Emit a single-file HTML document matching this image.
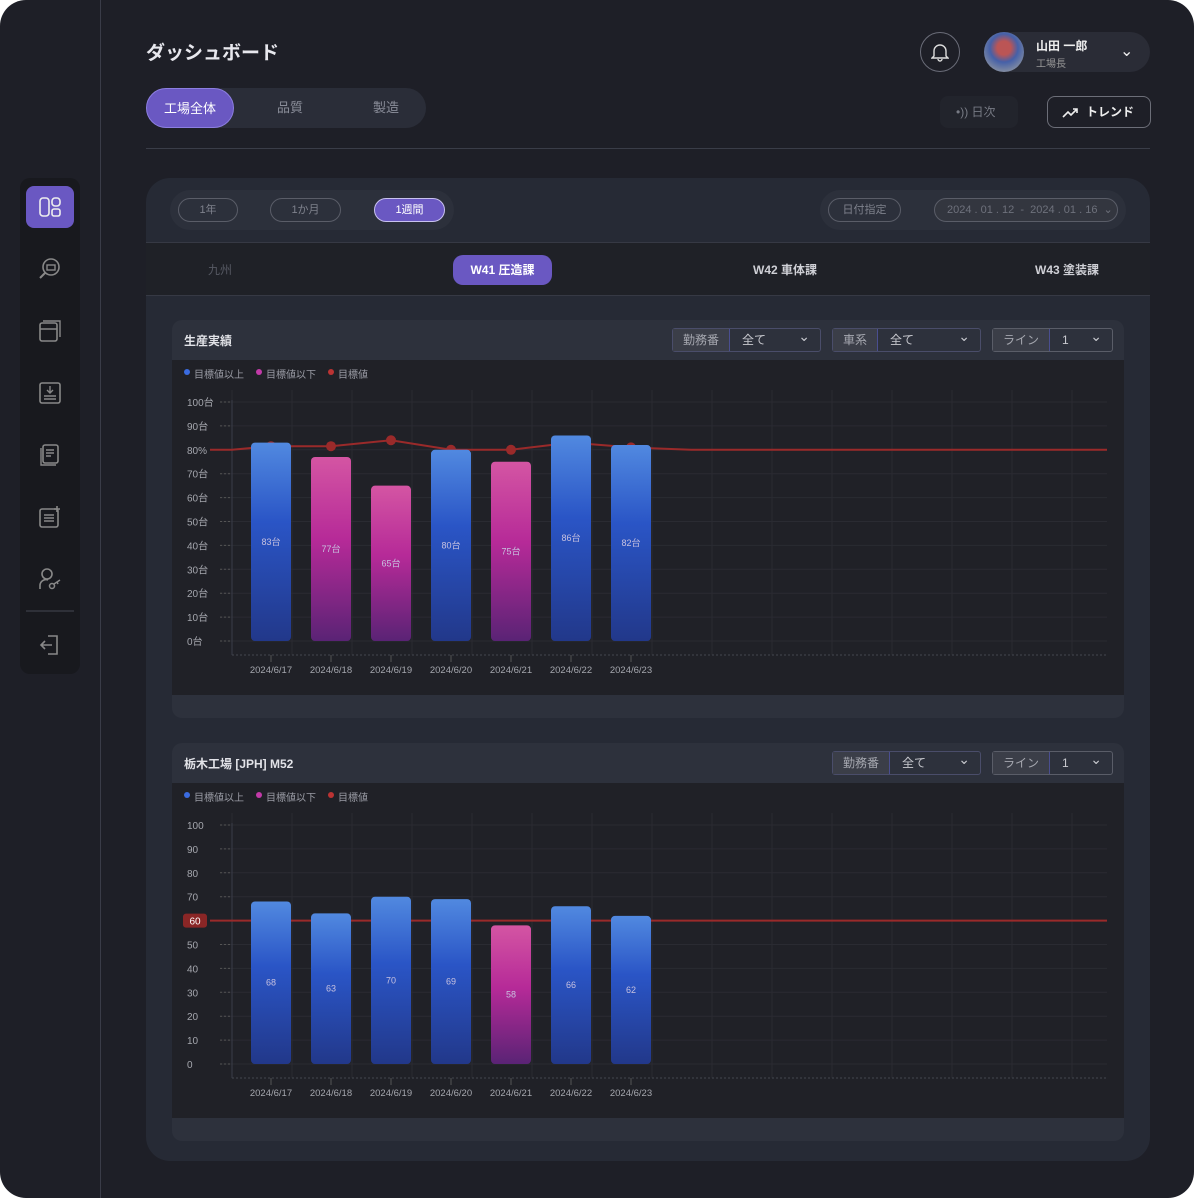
<!DOCTYPE html>
<html><head><meta charset="utf-8">
<style>
*{box-sizing:border-box;margin:0;padding:0}
body{width:1194px;height:1198px;background:#fff;font-family:"Liberation Sans","Noto Sans CJK JP",sans-serif;overflow:hidden}
.frame{position:absolute;left:0;top:0;width:1194px;height:1198px;background:#1e1f27;border-radius:26px;overflow:hidden}
.abs{position:absolute}
.vline{left:100px;top:0;width:1px;height:1198px;background:#3a3c48}
.title{left:146px;top:38px;color:#e8e8ee;font-size:19px;font-weight:bold}
.seg{left:146px;top:88px;width:280px;height:40px;border-radius:20px;background:#2a2d38}
.seg div{position:absolute;top:0;height:40px;line-height:40px;text-align:center;font-size:13px;color:#8a8d99}
.hr{left:146px;top:148px;width:1004px;height:1px;background:#3a3d48}
.side{left:20px;top:178px;width:60px;height:496px;background:#18191e;border-radius:10px}
.ic{position:absolute;left:6px;width:48px;height:42px;border-radius:8px;display:flex;align-items:center;justify-content:center}
.panel{left:146px;top:178px;width:1004px;height:983px;background:#262a35;border-radius:24px;overflow:hidden}
.pill{position:absolute;height:24px;border:1px solid #5a5d68;border-radius:12px;color:#7e818c;font-size:11px;line-height:22px;text-align:center}
.card{position:absolute;left:26px;width:952px;background:#2d313c;border-radius:10px;overflow:hidden}
.plot{position:absolute;left:0;top:40px;width:952px;height:335px;background:#202127}
.ctitle{position:absolute;left:12px;top:12px;color:#e2e3e8;font-size:12px;font-weight:bold}
.sel{position:absolute;top:8px;height:24px;border:1px solid #4a4d6a;border-radius:3px;font-size:12px;color:#c8c9cf;display:flex}
.sel .l{background:#3b3e48;color:#a5a7af;padding:0 10px;line-height:22px;border-right:1px solid #4a4e90}
.sel .r{flex:1;padding:0 12px;line-height:22px;position:relative}
.sel .r:after{content:"⌄";position:absolute;right:10px;top:-4px;font-size:14px}
</style></head><body>
<div class="frame">
<div class="abs vline"></div>
<div class="abs title">ダッシュボード</div>
<div class="abs seg">
 <div style="left:0;width:88px;background:#6a58c2;border-radius:20px;color:#fff;border:1px solid #8c7ee0">工場全体</div>
 <div style="left:100px;width:88px">品質</div>
 <div style="left:196px;width:88px">製造</div>
</div>
<div class="abs" style="left:920px;top:32px;width:40px;height:40px;border:1px solid #6a6c78;border-radius:50%;color:#ddd;text-align:center;line-height:38px;font-size:17px">
<svg width="18" height="20" viewBox="0 0 18 20" style="margin-top:9px"><path d="M3 14V9a6 6 0 0 1 12 0v5l2 2H1z M7 17a2 2 0 0 0 4 0" fill="none" stroke="#ddd" stroke-width="1.4"/></svg></div>
<div class="abs" style="left:984px;top:32px;width:166px;height:40px;border-radius:20px;background:#2a2c36">
 <div class="abs" style="left:0;top:0;width:40px;height:40px;border-radius:50%;background:radial-gradient(circle at 50% 40%,#b55 0 22%,#4560a8 45%,#8890a0 80%)"></div>
 <div class="abs" style="left:52px;top:5px;color:#eee;font-size:12px;font-weight:bold">山田 一郎</div>
 <div class="abs" style="left:52px;top:23px;color:#999;font-size:10px">工場長</div>
 <div class="abs" style="left:136px;top:9px;color:#eee;font-size:16px">⌄</div>
</div>
<div class="abs" style="left:940px;top:96px;width:78px;height:32px;border-radius:8px;background:#22242c;color:#777a84;font-size:12px;line-height:32px;padding-left:16px">•)) 日次</div>
<div class="abs" style="left:1047px;top:96px;width:104px;height:32px;border-radius:8px;border:1px solid #6c6e78;color:#eee;font-size:12px;font-weight:bold;line-height:30px;padding-left:14px"><svg width="18" height="10" viewBox="0 0 18 10" style="vertical-align:middle;margin-right:6px"><path d="M1 9l5-5 3 3 6-6M11 1h4v4" fill="none" stroke="#eee" stroke-width="1.6"/></svg>トレンド</div>
<div class="abs hr"></div>

<div class="abs side">
 <div class="ic" style="top:8px;background:#6a58c2"><svg width="24" height="22"><rect x="2" y="2" width="9" height="18" rx="3" fill="none" stroke="#eee" stroke-width="1.6"/><rect x="14" y="2" width="8" height="8" rx="3" fill="none" stroke="#eee" stroke-width="1.6"/><rect x="14" y="13" width="8" height="7" rx="2" fill="none" stroke="#eee" stroke-width="1.6"/></svg></div>
 <div class="ic" style="top:70px"><svg width="24" height="24"><circle cx="13" cy="10" r="8" fill="none" stroke="#888" stroke-width="1.6"/><path d="M7 16l-5 5" stroke="#888" stroke-width="2"/><rect x="9" y="8" width="8" height="5" fill="none" stroke="#888" stroke-width="1.4"/></svg></div>
 <div class="ic" style="top:132px"><svg width="24" height="24"><rect x="2" y="4" width="17" height="18" rx="2" fill="none" stroke="#888" stroke-width="1.6"/><path d="M5 2h17v16M2 10h17" stroke="#888" fill="none" stroke-width="1.4"/></svg></div>
 <div class="ic" style="top:194px"><svg width="24" height="24"><rect x="2" y="2" width="20" height="20" rx="2" fill="none" stroke="#888" stroke-width="1.6"/><path d="M12 5v7M9 9l3 3 3-3M6 15h12M6 18h12" stroke="#888" fill="none" stroke-width="1.4"/></svg></div>
 <div class="ic" style="top:256px"><svg width="24" height="24"><rect x="5" y="2" width="15" height="18" rx="2" fill="none" stroke="#888" stroke-width="1.6"/><path d="M3 5v17h15M8 7h8M8 10h8M8 13h5" stroke="#888" fill="none" stroke-width="1.4"/></svg></div>
 <div class="ic" style="top:318px"><svg width="24" height="24"><rect x="2" y="4" width="18" height="18" rx="2" fill="none" stroke="#888" stroke-width="1.6"/><path d="M6 10h10M6 13h10M6 16h10M19 1v6M16 4h6" stroke="#888" fill="none" stroke-width="1.6"/></svg></div>
 <div class="ic" style="top:380px"><svg width="24" height="24"><circle cx="9" cy="7" r="5" fill="none" stroke="#888" stroke-width="1.6"/><path d="M2 22v-4a6 6 0 0 1 8-5" stroke="#888" fill="none" stroke-width="1.6"/><circle cx="14" cy="19" r="2.5" fill="none" stroke="#888" stroke-width="1.5"/><path d="M16 17l6-4M19 15l1 2" stroke="#888" stroke-width="1.5"/></svg></div>
 <div class="abs" style="left:6px;top:432px;width:48px;height:2px;background:#2e3038"></div>
 <div class="ic" style="top:446px"><svg width="24" height="24"><path d="M10 3h9v18h-9M14 12H3M7 8l-4 4 4 4" stroke="#888" fill="none" stroke-width="1.6"/></svg></div>
</div>

<div class="abs panel">
 <div class="abs" style="left:24px;top:12px;width:284px;height:40px;border-radius:20px;background:#2c303b">
  <div class="pill" style="left:8px;top:8px;width:60px">1年</div>
  <div class="pill" style="left:100px;top:8px;width:71px">1か月</div>
  <div class="pill" style="left:204px;top:8px;width:71px;background:#6a58c2;color:#fff;border-color:#c9c2f0">1週間</div>
 </div>
 <div class="abs" style="left:674px;top:12px;width:306px;height:40px;border-radius:20px;background:#2c303b">
  <div class="pill" style="left:8px;top:8px;width:73px">日付指定</div>
  <div class="pill" style="left:114px;top:8px;width:184px;background:#33363f;color:#6e717c;text-align:left;padding-left:12px">2024 . 01 . 12 &nbsp;-&nbsp; 2024 . 01 . 16 &nbsp;⌄</div>
 </div>
 <div class="abs" style="left:0;top:64px;width:1004px;height:54px;background:#1f2127;border-top:1px solid #363944;border-bottom:1px solid #363944">
  <div class="abs" style="left:62px;top:18px;color:#565963;font-size:12px">九州</div>
  <div class="abs" style="left:307px;top:12px;width:99px;height:30px;border-radius:10px;background:#6a58c2;color:#fff;font-size:12px;font-weight:bold;text-align:center;line-height:30px">W41 圧造課</div>
  <div class="abs" style="left:607px;top:18px;color:#cfd0d6;font-size:12px;font-weight:bold">W42 車体課</div>
  <div class="abs" style="left:889px;top:18px;color:#cfd0d6;font-size:12px;font-weight:bold">W43 塗装課</div>
 </div>

 <div class="card" style="top:142px;height:398px">
  <div class="ctitle">生産実績</div>
  <div class="sel" style="left:500px;width:149px"><span class="l">勤務番</span><span class="r">全て</span></div>
  <div class="sel" style="left:660px;width:149px"><span class="l">車系</span><span class="r">全て</span></div>
  <div class="sel" style="left:820px;width:121px;border-color:#5a5d68"><span class="l">ライン</span><span class="r">1</span></div>
  <div class="plot"><svg id="c1" width="952" height="335"></svg></div>
 </div>
 <div class="card" style="top:565px;height:398px">
  <div class="ctitle">栃木工場 [JPH] M52</div>
  <div class="sel" style="left:660px;width:149px"><span class="l">勤務番</span><span class="r">全て</span></div>
  <div class="sel" style="left:820px;width:121px;border-color:#5a5d68"><span class="l">ライン</span><span class="r">1</span></div>
  <div class="plot"><svg id="c2" width="952" height="335"></svg></div>
 </div>
</div>
</div>

<svg width="0" height="0" style="position:absolute"><defs>
<linearGradient id="gb" x1="0" y1="0" x2="0" y2="1"><stop offset="0" stop-color="#5189e0"/><stop offset="0.4" stop-color="#2a55c6"/><stop offset="1" stop-color="#22388a"/></linearGradient>
<linearGradient id="gp" x1="0" y1="0" x2="0" y2="1"><stop offset="0" stop-color="#d455a3"/><stop offset="0.45" stop-color="#b62a98"/><stop offset="1" stop-color="#5a2375"/></linearGradient>
</defs></svg>

<script>
const categories = ["2024/6/17","2024/6/18","2024/6/19","2024/6/20","2024/6/21","2024/6/22","2024/6/23"];
const productionValues = [83,77,65,80,75,86,82];
const productionTarget = [81.5,81.5,84,80,80,83,81];
const productionTargetBase = 80;
const productionTicks = ["0台","10台","20台","30台","40台","50台","60台","70台","80%","90台","100台"];
const jphValues = [68,63,70,69,58,66,62];
const jphTarget = 60;
const jphTicks = ["0","10","20","30","40","50","60","70","80","90","100"];
const NS = "http://www.w3.org/2000/svg";
function mk(svg, tag, attrs){const e=document.createElementNS(NS,tag);for(const k in attrs)e.setAttribute(k,attrs[k]);svg.appendChild(e);return e;}
function draw(id, values, ticks, target, targetSeries, y0, labelSuffix){
  const svg=document.getElementById(id);
  const yBase=y0, pxPer=2.39;
  const y=v=>yBase-v*pxPer;
  const x=i=>99+i*60;
  // legend
  [["#3a6be0","目標値以上",12],["#c23aa8","目標値以下",84],["#b33",  "目標値",156]].forEach((l,k)=>{
    const c=mk(svg,"circle",{cx:l[2]+3,cy:12,r:3,fill:l[0]});
    
    
    const t=mk(svg,"text",{x:l[2]+10,y:18,fill:"#9a9ca5","font-size":10});t.textContent=l[1];
    
    
  });
  // grid
  for(let gx=0;gx<=900;gx+=60) mk(svg,"line",{x1:60+gx,y1:30,x2:60+gx,y2:295,stroke:"#2a2b32","stroke-width":1});
  ticks.forEach((tk,i)=>{
    const yy=y(i*10);
    mk(svg,"line",{x1:50,y1:yy,x2:935,y2:yy,stroke:"#2a2b32"});
    mk(svg,"line",{x1:48,y1:yy,x2:60,y2:yy,stroke:"#555","stroke-dasharray":"2,2"});
    const t=mk(svg,"text",{x:15,y:yy+4,fill:"#a5a7ae","font-size":10});t.textContent=tk;
    
    
  });
  mk(svg,"line",{x1:60,y1:y(100)-2,x2:60,y2:295,stroke:"#3a3d48"});
  mk(svg,"line",{x1:60,y1:295,x2:935,y2:295,stroke:"#44464f","stroke-dasharray":"2,2"});
  // target line
  if(targetSeries){
    let pts=[[38,y(target)],[60,y(target)]];
    targetSeries.forEach((v,i)=>pts.push([x(i),y(v)]));
    pts.push([x(values.length-1)+60,y(target)],[935,y(target)]);
    const p=mk(svg,"polyline",{points:pts.map(p=>p.join(",")).join(" "),fill:"none",stroke:"#9a2a2a","stroke-width":2});
    
    
  } else {
    const l=mk(svg,"line",{x1:38,y1:y(target),x2:935,y2:y(target),stroke:"#9a2a2a","stroke-width":2});
    
    
  }
  values.forEach((v,i)=>{
    const r=mk(svg,"rect",{x:x(i)-20,y:y(v),width:40,height:v*pxPer,rx:4,fill:v>=target?"url(#gb)":"url(#gp)"});
    
    
    const t=mk(svg,"text",{x:x(i),y:y(v/2)+3,fill:"#c8c2e0","font-size":9,"text-anchor":"middle"});t.textContent=v+labelSuffix;
    
    
    mk(svg,"line",{x1:x(i),y1:295,x2:x(i),y2:302,stroke:"#555"});
    const c=mk(svg,"text",{x:x(i),y:313,fill:"#a5a7ae","font-size":9.5,"text-anchor":"middle"});c.textContent=categories[i];
    
    
  });
  if(targetSeries){
    targetSeries.forEach((v,i)=>{
      const d=mk(svg,"circle",{cx:x(i),cy:y(v),r:5,fill:"#9a2a2a"});
      
      
      svg.insertBefore(d, svg.querySelector('rect'));
    });
  } else {
    const b=mk(svg,"rect",{x:11,y:y(target)-7,width:24,height:14,rx:3,fill:"#8a2626"});
    
    
    const t=mk(svg,"text",{x:23,y:y(target)+4,fill:"#fff","font-size":10,"text-anchor":"middle"});t.textContent=String(target);
    
    
  }
}
draw("c1", productionValues, productionTicks, productionTargetBase, productionTarget, 281, "台");
draw("c2", jphValues, jphTicks, jphTarget, null, 281, "");
</script>
</body></html>
